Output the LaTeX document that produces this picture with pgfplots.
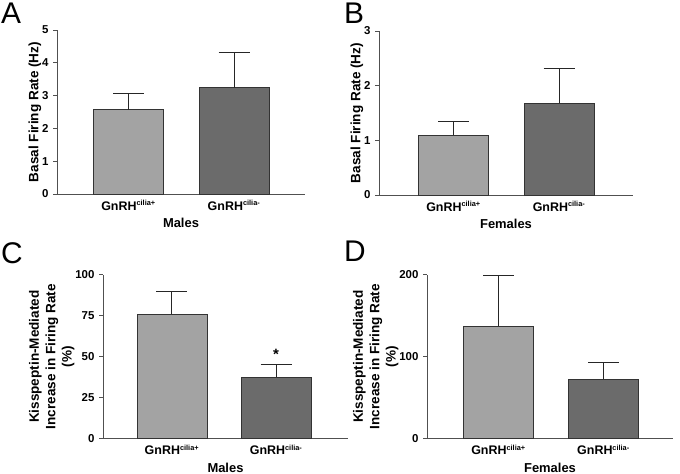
\documentclass[border=0pt]{standalone}
\usepackage{pgfplots}
\pgfplotsset{compat=1.18}
\usepackage{fontspec}
\setmainfont{Liberation Sans}
\definecolor{barlight}{HTML}{A3A3A3}
\definecolor{bardark}{HTML}{6B6B6B}
\definecolor{axgray}{HTML}{505050}
\newcommand{\gn}[1]{GnRH\textsuperscript{\fontsize{7.4}{8}\selectfont #1}}
\pgfplotsset{
  panel/.style={
    scale only axis,
    anchor=south west,
    axis x line=bottom, axis y line=left,
    axis line style={-, draw=axgray, line width=0.9pt},
    ymin=0,
    xtick={0,1},
    xticklabels={\gn{cilia+}, \gn{cilia-}},
    xtick style={draw=none},
    ytick style={draw=axgray, line width=0.9pt},
    tick align=outside,
    major tick length=4bp,
    /pgf/number format/assume math mode=true,
    yticklabel style={font=\bfseries\fontsize{11.5}{13}\selectfont, xshift=-1bp},
    xticklabel style={font=\bfseries\fontsize{12.5}{14}\selectfont, yshift=1bp},
    xlabel style={font=\bfseries\fontsize{13}{15}\selectfont, yshift=-1bp},
    ylabel style={align=center, font=\bfseries\fontsize{13.6}{16.5}\selectfont, yshift=-6bp},
    height=164bp,
    clip=false,
  },
  mybar/.style={
    ybar, bar width=70bp, bar shift=0pt, fill=#1, draw=black!80, line width=0.8pt,
    error bars/.cd, y dir=plus, y explicit,
    error bar style={line width=1pt, black!85},
    error mark options={rotate=90, line width=1pt, black!85, mark size=15.5bp},
  },
}
\begin{document}
\begin{tikzpicture}[x=1bp,y=1bp]
\useasboundingbox (0,0) rectangle (680,474);
% Panel A
\begin{axis}[panel, at={(57bp,280bp)}, width=248bp, xmin=-0.678, xmax=1.673,
  ymax=5, ytick={0,1,2,3,4,5}, xlabel={Males}, ylabel={Basal Firing Rate (Hz)}]
\addplot[mybar=barlight] coordinates {(0,2.57) +- (0,0.49)};
\addplot[mybar=bardark] coordinates {(1,3.24) +- (0,1.07)};
\end{axis}
% Panel B
\begin{axis}[panel, at={(379bp,279bp)}, width=254bp, xmin=-0.706, xmax=1.701,
  ymax=3, ytick={0,1,2,3}, xlabel={Females}, ylabel={Basal Firing Rate (Hz)}]
\addplot[mybar=barlight] coordinates {(0,1.09) +- (0,0.25)};
\addplot[mybar=bardark] coordinates {(1,1.68) +- (0,0.64)};
\end{axis}
% Panel C
\begin{axis}[panel, at={(103bp,35.3bp)}, width=245bp, xmin=-0.662, xmax=1.69,
  ymax=100, ytick={0,25,50,75,100}, xlabel={Males},
  ylabel={Kisspeptin-Mediated\\Increase in Firing Rate\\(\%)}]
\addplot[mybar=barlight] coordinates {(0,75.8) +- (0,14.0)};
\addplot[mybar=bardark] coordinates {(1,37.4) +- (0,7.9)};
\node[font=\bfseries\fontsize{15}{15}\selectfont] at (axis cs:1,51.5) {*};
\end{axis}
% Panel D
\begin{axis}[panel, at={(427bp,35.3bp)}, width=246bp, xmin=-0.681, xmax=1.662,
  ymax=200, ytick={0,100,200}, xlabel={Females},
  ylabel={Kisspeptin-Mediated\\Increase in Firing Rate\\(\%)}]
\addplot[mybar=barlight] coordinates {(0,137) +- (0,61.8)};
\addplot[mybar=bardark] coordinates {(1,72.8) +- (0,19.9)};
\end{axis}
% panel letters
\node[anchor=north west, inner sep=0, font=\fontsize{30}{30}\selectfont] at (1,471) {A};
\node[anchor=north west, inner sep=0, font=\fontsize{30}{30}\selectfont] at (344,471) {B};
\node[anchor=north west, inner sep=0, font=\fontsize{30}{30}\selectfont] at (1,232) {C};
\node[anchor=north west, inner sep=0, font=\fontsize{30}{30}\selectfont] at (344,233) {D};
\end{tikzpicture}
\end{document}
